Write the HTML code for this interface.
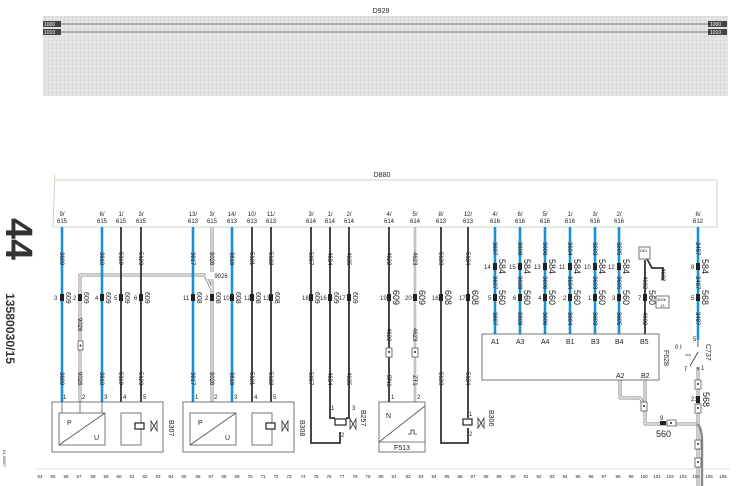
<!DOCTYPE html>
<html><head><meta charset="utf-8"><style>
html,body{margin:0;padding:0;background:#fff;width:744px;height:486px;overflow:hidden}
svg{display:block}
text{font-family:"Liberation Sans",sans-serif;fill:#222}
.s{font-size:6px}.m{font-size:7px}.c{font-size:9px}
</style></head><body>
<svg width="744" height="486" viewBox="0 0 744 486" xmlns="http://www.w3.org/2000/svg">
<defs>
<pattern id="n" width="4" height="4" patternUnits="userSpaceOnUse"><rect width="4" height="4" fill="#e2e2e2"/><rect x="0" y="0" width="1" height="1" fill="#cfcfcf"/><rect x="2" y="2" width="1" height="1" fill="#f0f0f0"/></pattern>
</defs>
<text x="381" y="13" class="m" text-anchor="middle">D929</text>
<rect x="43" y="16" width="685" height="80" fill="url(#n)"/>
<line x1="61" y1="24" x2="708" y2="24" stroke="#555" stroke-width="0.8"/>
<line x1="61" y1="32" x2="708" y2="32" stroke="#555" stroke-width="0.8"/>
<rect x="43" y="21" width="18" height="6" fill="#444"/><text x="44" y="26" class="s" style="fill:#fff;font-size:5px">1000</text>
<rect x="43" y="29" width="18" height="6" fill="#444"/><text x="44" y="34" class="s" style="fill:#fff;font-size:5px">1010</text>
<rect x="708" y="21" width="19" height="6" fill="#444"/><text x="710" y="26" class="s" style="fill:#fff;font-size:5px">1000</text>
<rect x="708" y="29" width="19" height="6" fill="#444"/><text x="710" y="34" class="s" style="fill:#fff;font-size:5px">1010</text>

<text transform="translate(6,218) rotate(90)" textLength="42" lengthAdjust="spacingAndGlyphs" style="font-size:38px;font-weight:bold;fill:#333">44</text>
<text transform="translate(6,293) rotate(90)" textLength="71" lengthAdjust="spacingAndGlyphs" style="font-size:12px;font-weight:bold;fill:#333">13580030/15</text>
<text transform="translate(3,450) rotate(90)" style="font-size:4px">E1.05827</text>

<text x="382" y="177" class="m" text-anchor="middle">D880</text>
<path d="M55 180 H717 V227 H53" fill="none" stroke="#b9cdb0" stroke-width="0.8"/>
<line x1="55" y1="175" x2="53" y2="227" stroke="#b9cdb0" stroke-width="0.8"/>

<g class="s" text-anchor="middle">
<text x="62" y="216">9/</text><text x="62" y="223">615</text>
<text x="102" y="216">6/</text><text x="102" y="223">615</text>
<text x="121" y="216">1/</text><text x="121" y="223">615</text>
<text x="141" y="216">3/</text><text x="141" y="223">615</text>
<text x="193" y="216">13/</text><text x="193" y="223">613</text>
<text x="212" y="216">3/</text><text x="212" y="223">615</text>
<text x="232" y="216">14/</text><text x="232" y="223">613</text>
<text x="252" y="216">10/</text><text x="252" y="223">613</text>
<text x="271" y="216">11/</text><text x="271" y="223">613</text>
<text x="311" y="216">3/</text><text x="311" y="223">614</text>
<text x="330" y="216">1/</text><text x="330" y="223">614</text>
<text x="349" y="216">2/</text><text x="349" y="223">614</text>
<text x="389" y="216">4/</text><text x="389" y="223">614</text>
<text x="415" y="216">5/</text><text x="415" y="223">614</text>
<text x="441" y="216">8/</text><text x="441" y="223">613</text>
<text x="468" y="216">12/</text><text x="468" y="223">613</text>
<text x="495" y="216">4/</text><text x="495" y="223">616</text>
<text x="520" y="216">6/</text><text x="520" y="223">616</text>
<text x="545" y="216">5/</text><text x="545" y="223">616</text>
<text x="570" y="216">1/</text><text x="570" y="223">616</text>
<text x="595" y="216">3/</text><text x="595" y="223">616</text>
<text x="619" y="216">2/</text><text x="619" y="223">616</text>
<text x="698" y="216">6/</text><text x="698" y="223">612</text>
</g>

<g fill="none" stroke-linejoin="round">
<path d="M80 402 V275 H205 L212 290 V227" stroke="#888" stroke-width="3"/>
<path d="M80 402 V275 H205 L212 290 V227" stroke="#fff" stroke-width="1.2"/>
<path d="M212 290 V402" stroke="#888" stroke-width="3"/><path d="M212 290 V402" stroke="#fff" stroke-width="1.2"/>
<path d="M415 227 V402" stroke="#999" stroke-width="2.4"/><path d="M415 227 V402" stroke="#fff" stroke-width="0.8"/>
<path d="M620 380 V398 H640 L645 405 V424 H698" stroke="#888" stroke-width="3"/>
<path d="M645 380 V405" stroke="#888" stroke-width="3"/>
<path d="M620 380 V398 H640 L645 405 V424 H698" stroke="#fff" stroke-width="1.2"/>
<path d="M645 380 V405" stroke="#fff" stroke-width="1.2"/>
<path d="M698 367 V486" stroke="#888" stroke-width="3"/><path d="M698 367 V486" stroke="#fff" stroke-width="1.2"/>
<path d="M698 424 Q702 430 702 440 V486" stroke="#888" stroke-width="2.4"/>
</g>
<rect x="206" y="272" width="30" height="7" fill="#fff"/><text x="221" y="278" class="s" text-anchor="middle">9026</text>

<g stroke="#1a8fd6" stroke-width="2.6">
<line x1="62" y1="227" x2="62" y2="402"/><line x1="102" y1="227" x2="102" y2="402"/>
<line x1="193" y1="227" x2="193" y2="402"/><line x1="232" y1="227" x2="232" y2="402"/>
<line x1="495" y1="227" x2="495" y2="334"/><line x1="520" y1="227" x2="520" y2="334"/>
<line x1="545" y1="227" x2="545" y2="334"/><line x1="570" y1="227" x2="570" y2="334"/>
<line x1="595" y1="227" x2="595" y2="334"/><line x1="619" y1="227" x2="619" y2="334"/>
<line x1="698" y1="227" x2="698" y2="340"/>
</g>
<g stroke="#333" stroke-width="1.8" fill="none">
<line x1="121" y1="227" x2="121" y2="402"/><line x1="141" y1="227" x2="141" y2="402"/>
<line x1="252" y1="227" x2="252" y2="402"/><line x1="271" y1="227" x2="271" y2="402"/>
<path d="M311 227 V443 H340 V432"/>
<path d="M330 227 V418 H335"/><path d="M349 227 V418 H346"/>
<line x1="389" y1="227" x2="389" y2="402"/>
<path d="M441 227 V443 H468 V428"/><path d="M468 227 V418"/>
<path d="M645 260 V334"/><path d="M647 259 L652 268 H663 V280"/>
</g>

<g class="s">
<text transform="translate(60,252) rotate(90)">3609</text><text transform="translate(100,252) rotate(90)">3610</text>
<text transform="translate(119,252) rotate(90)">5119</text><text transform="translate(139,252) rotate(90)">5120</text>
<text transform="translate(191,252) rotate(90)">3617</text><text transform="translate(210,252) rotate(90)">9026</text>
<text transform="translate(230,252) rotate(90)">3616</text><text transform="translate(250,252) rotate(90)">5121</text>
<text transform="translate(269,252) rotate(90)">5122</text><text transform="translate(309,252) rotate(90)">5057</text>
<text transform="translate(328,252) rotate(90)">4634</text><text transform="translate(347,252) rotate(90)">4635</text>
<text transform="translate(387,252) rotate(90)">4622</text><text transform="translate(413,252) rotate(90)">4623</text>
<text transform="translate(439,252) rotate(90)">5123</text><text transform="translate(466,252) rotate(90)">5124</text>
<text transform="translate(493,242) rotate(90)">3607</text><text transform="translate(518,242) rotate(90)">3608</text>
<text transform="translate(543,242) rotate(90)">3606</text><text transform="translate(568,242) rotate(90)">3604</text>
<text transform="translate(593,242) rotate(90)">3603</text><text transform="translate(617,242) rotate(90)">3605</text>
<text transform="translate(696,242) rotate(90)">3487</text>
<text transform="translate(493,276) rotate(90)">3607</text><text transform="translate(518,276) rotate(90)">3608</text>
<text transform="translate(543,276) rotate(90)">3606</text><text transform="translate(568,276) rotate(90)">3604</text>
<text transform="translate(593,276) rotate(90)">3603</text><text transform="translate(617,276) rotate(90)">3605</text>
<text transform="translate(643,276) rotate(90)">4602</text><text transform="translate(696,276) rotate(90)">3487</text>
<text transform="translate(661,268) rotate(90)">4602</text>
<text transform="translate(78,318) rotate(90)">9026</text>
<text transform="translate(60,372) rotate(90)">3609</text><text transform="translate(78,372) rotate(90)">9026</text>
<text transform="translate(100,372) rotate(90)">3610</text><text transform="translate(119,372) rotate(90)">5119</text>
<text transform="translate(139,372) rotate(90)">5120</text><text transform="translate(191,372) rotate(90)">3617</text>
<text transform="translate(210,372) rotate(90)">9026</text><text transform="translate(230,372) rotate(90)">3616</text>
<text transform="translate(250,372) rotate(90)">5121</text><text transform="translate(269,372) rotate(90)">5122</text>
<text transform="translate(309,372) rotate(90)">5057</text><text transform="translate(328,372) rotate(90)">4634</text>
<text transform="translate(347,372) rotate(90)">4635</text><text transform="translate(387,375) rotate(90)">BN1</text>
<text transform="translate(413,375) rotate(90)">ZT1</text><text transform="translate(439,372) rotate(90)">5123</text>
<text transform="translate(466,372) rotate(90)">5124</text>
<text transform="translate(387,328) rotate(90)">4622</text><text transform="translate(413,328) rotate(90)">4623</text>
<text transform="translate(493,312) rotate(90)">3607</text><text transform="translate(518,312) rotate(90)">3608</text>
<text transform="translate(543,312) rotate(90)">3606</text><text transform="translate(568,312) rotate(90)">3604</text>
<text transform="translate(593,312) rotate(90)">3603</text><text transform="translate(617,312) rotate(90)">3605</text>
<text transform="translate(643,312) rotate(90)">4602</text><text transform="translate(696,312) rotate(90)">3487</text>
</g>

<g fill="#222">
<rect x="60" y="294" width="4" height="7"/><rect x="78" y="294" width="4" height="7"/><rect x="100" y="294" width="4" height="7"/>
<rect x="119" y="294" width="4" height="7"/><rect x="139" y="294" width="4" height="7"/><rect x="191" y="294" width="4" height="7"/>
<rect x="210" y="294" width="4" height="7"/><rect x="230" y="294" width="4" height="7"/><rect x="250" y="294" width="4" height="7"/>
<rect x="269" y="294" width="4" height="7"/><rect x="309" y="294" width="4" height="7"/><rect x="328" y="294" width="4" height="7"/>
<rect x="347" y="294" width="4" height="7"/><rect x="387" y="294" width="4" height="7"/><rect x="413" y="294" width="4" height="7"/>
<rect x="439" y="294" width="4" height="7"/><rect x="466" y="294" width="4" height="7"/>
<rect x="493" y="294" width="4" height="7"/><rect x="518" y="294" width="4" height="7"/><rect x="543" y="294" width="4" height="7"/>
<rect x="568" y="294" width="4" height="7"/><rect x="593" y="294" width="4" height="7"/><rect x="617" y="294" width="4" height="7"/>
<rect x="643" y="294" width="4" height="7"/><rect x="696" y="294" width="4" height="7"/>
<rect x="493" y="263" width="4" height="7"/><rect x="518" y="263" width="4" height="7"/><rect x="543" y="263" width="4" height="7"/>
<rect x="568" y="263" width="4" height="7"/><rect x="593" y="263" width="4" height="7"/><rect x="617" y="263" width="4" height="7"/>
<rect x="696" y="263" width="4" height="7"/>
</g>
<g class="s">
<text x="54" y="300">3</text><text x="73" y="300">2</text><text x="95" y="300">4</text><text x="114" y="300">5</text><text x="134" y="300">6</text>
<text x="183" y="300">11</text><text x="205" y="300">2</text><text x="223" y="300">10</text><text x="244" y="300">12</text><text x="263" y="300">13</text>
<text x="302" y="300">18</text><text x="320" y="300">16</text><text x="339" y="300">17</text>
<text x="380" y="300">19</text><text x="405" y="300">20</text><text x="432" y="300">16</text><text x="459" y="300">17</text>
<text x="488" y="300">5</text><text x="513" y="300">6</text><text x="538" y="300">4</text><text x="563" y="300">2</text><text x="588" y="300">1</text><text x="612" y="300">3</text><text x="638" y="300">7</text><text x="691" y="300">5</text>
<text x="484" y="269">14</text><text x="509" y="269">15</text><text x="534" y="269">13</text><text x="559" y="269">11</text><text x="584" y="269">10</text><text x="608" y="269">12</text><text x="691" y="269">8</text>
</g>
<g class="m">
<text transform="translate(66,292) rotate(90)">609</text><text transform="translate(84,292) rotate(90)">609</text>
<text transform="translate(106,292) rotate(90)">609</text><text transform="translate(125,292) rotate(90)">609</text>
<text transform="translate(145,292) rotate(90)">609</text><text transform="translate(197,292) rotate(90)">608</text>
<text transform="translate(216,292) rotate(90)">608</text><text transform="translate(236,292) rotate(90)">608</text>
<text transform="translate(256,292) rotate(90)">608</text><text transform="translate(275,292) rotate(90)">608</text>
<text transform="translate(315,292) rotate(90)">609</text><text transform="translate(334,292) rotate(90)">609</text>
<text transform="translate(353,292) rotate(90)">609</text>
</g>
<g class="c">
<text transform="translate(393,290) rotate(90)">609</text><text transform="translate(419,290) rotate(90)">609</text>
<text transform="translate(445,290) rotate(90)">608</text><text transform="translate(472,290) rotate(90)">608</text>
<text transform="translate(499,290) rotate(90)">560</text><text transform="translate(524,290) rotate(90)">560</text>
<text transform="translate(549,290) rotate(90)">560</text><text transform="translate(574,290) rotate(90)">560</text>
<text transform="translate(599,290) rotate(90)">560</text><text transform="translate(623,290) rotate(90)">560</text>
<text transform="translate(649,290) rotate(90)">560</text><text transform="translate(702,290) rotate(90)">568</text>
<text transform="translate(499,259) rotate(90)">584</text><text transform="translate(524,259) rotate(90)">584</text>
<text transform="translate(549,259) rotate(90)">584</text><text transform="translate(574,259) rotate(90)">584</text>
<text transform="translate(599,259) rotate(90)">584</text><text transform="translate(623,259) rotate(90)">584</text>
<text transform="translate(702,259) rotate(90)">584</text>
<text transform="translate(703,392) rotate(90)">568</text>
<text x="656" y="437">560</text>
</g>

<g fill="#fff" stroke="#555" stroke-width="0.8">
<rect x="78" y="341" width="5" height="9"/><rect x="386" y="348" width="6" height="9"/><rect x="412" y="348" width="6" height="9"/>
<rect x="641" y="402" width="6" height="9"/><rect x="667" y="420" width="9" height="6"/>
<rect x="695" y="380" width="6" height="9"/><rect x="695" y="404" width="6" height="9"/><rect x="695" y="440" width="6" height="9"/><rect x="695" y="458" width="6" height="9"/>
<rect x="639" y="247" width="11" height="12"/><rect x="656" y="296" width="13" height="12"/>
</g>
<g fill="#222"><circle cx="80.5" cy="345.5" r="1"/><circle cx="389" cy="352" r="1"/><circle cx="415" cy="352" r="1"/><circle cx="644" cy="406" r="1"/><circle cx="671" cy="423" r="1"/><circle cx="698" cy="384" r="1"/><circle cx="698" cy="408" r="1"/><circle cx="698" cy="444" r="1"/><circle cx="698" cy="462" r="1"/><rect x="696" y="396" width="4" height="7"/><rect x="660" y="421" width="6" height="4"/></g>
<text x="640" y="252" style="font-size:4px">D61</text><text x="657" y="301" style="font-size:4px">3026</text><text x="660" y="307" style="font-size:4px">13</text>
<text x="691" y="401" class="s">21</text><text x="660" y="420" class="s">9</text>

<g fill="none" stroke="#555" stroke-width="0.8">
<rect x="52" y="402" width="111" height="50"/><rect x="59" y="413" width="46" height="32"/><line x1="59" y1="445" x2="105" y2="413"/>
<rect x="121" y="413" width="20" height="32"/><line x1="62" y1="402" x2="62" y2="413"/><line x1="80" y1="402" x2="80" y2="413"/><line x1="102" y1="402" x2="102" y2="413"/>
<rect x="183" y="402" width="111" height="50"/><rect x="190" y="413" width="46" height="32"/><line x1="190" y1="445" x2="236" y2="413"/>
<rect x="252" y="413" width="20" height="32"/>
<rect x="379" y="402" width="46" height="50"/><line x1="379" y1="442" x2="425" y2="442"/><line x1="379" y1="442" x2="425" y2="406"/>
<rect x="482" y="334" width="177" height="46"/>
</g>
<g fill="#fff" stroke="#222" stroke-width="1.2">
<rect x="135" y="423" width="9" height="6"/><rect x="266" y="423" width="9" height="6"/><rect x="335" y="419" width="11" height="6"/><rect x="463" y="419" width="9" height="6"/>
</g>
<g fill="none" stroke="#333" stroke-width="0.8">
<path d="M151 421 L157 431 L157 421 L151 431 Z"/><path d="M282 421 L288 431 L288 421 L282 431 Z"/>
<path d="M350 419 L356 429 L356 419 L350 429 Z"/><path d="M478 418 L484 428 L484 418 L478 428 Z"/>
<path d="M408 434 h3 v-4 h3 v4 h3"/>
<path d="M698 340 V347 M698 352 L690 366 M698 367 V370 M685 355 h6"/>
</g>
<g class="m">
<text x="63" y="399" class="s">1</text><text x="82" y="399" class="s">2</text><text x="104" y="399" class="s">3</text><text x="123" y="399" class="s">4</text><text x="143" y="399" class="s">5</text>
<text x="195" y="399" class="s">1</text><text x="214" y="399" class="s">2</text><text x="234" y="399" class="s">3</text><text x="254" y="399" class="s">4</text><text x="273" y="399" class="s">5</text>
<text x="331" y="410" class="s">1</text><text x="352" y="410" class="s">3</text><text x="341" y="437" class="s">2</text>
<text x="391" y="399" class="s">1</text><text x="417" y="399" class="s">2</text>
<text x="469" y="416" class="s">1</text><text x="469" y="436" class="s">2</text>
<text x="67" y="425">P</text><text x="94" y="440">U</text><text x="198" y="425">P</text><text x="225" y="440">U</text>
<text x="386" y="418">N</text><text x="394" y="450">F513</text>
<text transform="translate(169,420) rotate(90)">B307</text><text transform="translate(300,420) rotate(90)">B308</text>
<text transform="translate(361,410) rotate(90)">B257</text><text transform="translate(489,410) rotate(90)">B306</text>
<text transform="translate(664,350) rotate(90)">F628</text><text transform="translate(706,344) rotate(90)">C737</text>
<text x="491" y="344">A1</text><text x="516" y="344">A3</text><text x="541" y="344">A4</text><text x="566" y="344">B1</text><text x="591" y="344">B3</text><text x="615" y="344">B4</text><text x="640" y="344">B5</text>
<text x="616" y="378">A2</text><text x="641" y="378">B2</text>
<text x="693" y="341" class="s">5</text><text x="684" y="371" class="s">7</text><text x="701" y="370" class="s">1</text><text x="675" y="349" class="s">0  I</text>
</g>

<line x1="36" y1="469" x2="730" y2="469" stroke="#bbb" stroke-width="0.6"/>
<g style="font-size:4.5px" text-anchor="middle">
<text x="40" y="478">54</text><text x="53" y="478">55</text><text x="66" y="478">56</text><text x="79" y="478">57</text><text x="93" y="478">58</text><text x="106" y="478">59</text><text x="119" y="478">60</text><text x="132" y="478">61</text><text x="145" y="478">62</text><text x="158" y="478">63</text><text x="171" y="478">64</text><text x="184" y="478">65</text><text x="198" y="478">66</text><text x="211" y="478">67</text><text x="224" y="478">68</text><text x="237" y="478">69</text><text x="250" y="478">70</text><text x="263" y="478">71</text><text x="276" y="478">72</text><text x="289" y="478">73</text><text x="303" y="478">74</text><text x="316" y="478">75</text><text x="329" y="478">76</text><text x="342" y="478">77</text><text x="355" y="478">78</text><text x="368" y="478">79</text><text x="381" y="478">80</text><text x="394" y="478">81</text><text x="408" y="478">82</text><text x="421" y="478">83</text><text x="434" y="478">84</text><text x="447" y="478">85</text><text x="460" y="478">86</text><text x="473" y="478">87</text><text x="486" y="478">88</text><text x="499" y="478">89</text><text x="513" y="478">90</text><text x="526" y="478">91</text><text x="539" y="478">92</text><text x="552" y="478">93</text><text x="565" y="478">94</text><text x="578" y="478">95</text><text x="591" y="478">96</text><text x="604" y="478">97</text><text x="618" y="478">98</text><text x="631" y="478">99</text><text x="644" y="478">100</text><text x="657" y="478">101</text><text x="670" y="478">102</text><text x="683" y="478">103</text><text x="696" y="478">104</text><text x="709" y="478">105</text><text x="723" y="478">106</text>
</g>
</svg>
</body></html>
